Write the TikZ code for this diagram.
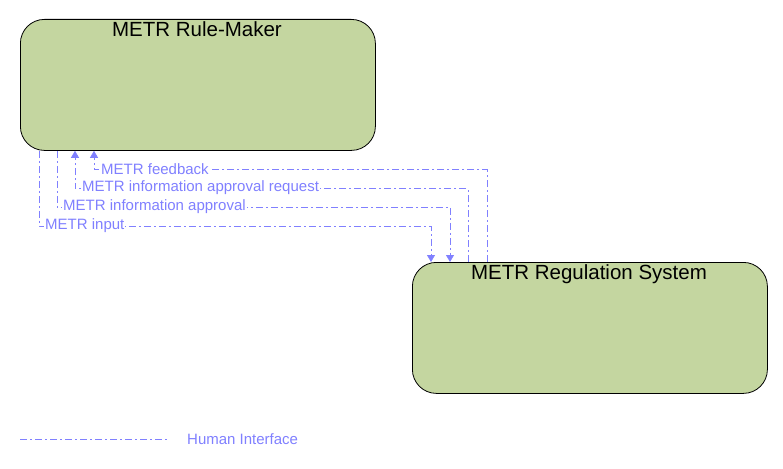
\documentclass[tikz,border=0pt]{standalone}
\usepackage{fontspec}
\setmainfont{Liberation Sans}
\usetikzlibrary{arrows.meta}
\definecolor{boxfill}{RGB}{196,214,160}
\definecolor{hi}{RGB}{128,128,255}
\tikzset{
  sysbox/.style={draw=black, fill=boxfill, rounded corners=24pt, minimum width=355pt, minimum height=131pt, inner sep=0pt, line width=0.8pt},
  systitle/.style={font=\fontsize{20.5}{23}\selectfont, anchor=north, inner sep=0pt},
  iface/.style={draw=hi, line width=0.8pt, dash pattern=on 7pt off 3pt on 2pt off 3pt},
  tip/.style={-{Triangle[width=8pt,length=7pt]}},
  flab/.style={text=hi, font=\fontsize{15}{17}\selectfont, fill=white, inner sep=1pt, anchor=west}
}
\begin{document}
\begin{tikzpicture}[x=1pt,y=-1pt]
\useasboundingbox (0,0) rectangle (783,468);
\node[sysbox, anchor=north west] (rm) at (20,19) {};
\node[systitle] (rmt) at (197,21) {METR Rule-Maker};
\node[sysbox, anchor=north west] (rs) at (412,262) {};
\node[systitle] (rst) at (589,264) {METR Regulation System};

% METR input
\draw[iface,tip] ([xshift=19pt]rm.south west) |- ([xshift=19pt,yshift=36pt]rs.north west) -- ([xshift=19pt]rs.north west);
\node[flab] (l1) at (44,226) {METR input};
% METR information approval
\draw[iface,tip] ([xshift=37pt]rm.south west) |- ([xshift=38pt,yshift=55pt]rs.north west) -- ([xshift=38pt]rs.north west);
\node[flab] (l2) at (62,207) {METR information approval};
% METR information approval request
\draw[iface,tip] ([xshift=56pt]rs.north west) |- ([xshift=55pt,yshift=-38pt]rm.south west) -- ([xshift=55pt]rm.south west);
\node[flab] (l3) at (81,188) {METR information approval request};
% METR feedback
\draw[iface,tip] ([xshift=75pt]rs.north west) |- ([xshift=74pt,yshift=-19pt]rm.south west) -- ([xshift=74pt]rm.south west);
\node[flab] (l4) at (100,169) {METR feedback};

% legend
\coordinate (lg1) at (20,439);
\coordinate (lg2) at (168,439);
\draw[iface] (lg1) -- (lg2);
\node[flab, fill=none] (lgt) at (186,439) {Human Interface};
\end{tikzpicture}
\end{document}
